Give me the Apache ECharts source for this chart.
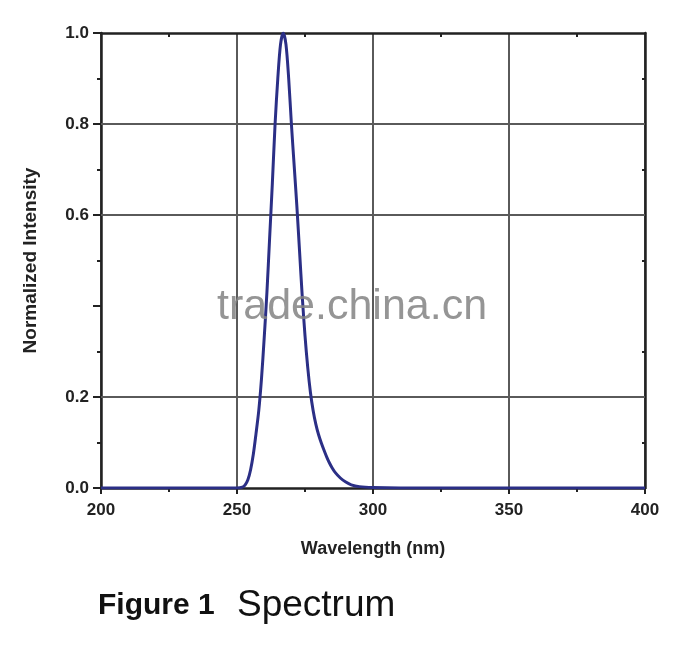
<!DOCTYPE html>
<html>
<head>
<meta charset="utf-8">
<script src="https://cdn.jsdelivr.net/npm/echarts@6/dist/echarts.min.js"></script>
<style>html,body{margin:0;padding:0;background:#fff;}#c{width:700px;height:649px;}</style>
</head>
<body>
<div id="c"></div>
<script>
var wavelength = [200, 230, 250, 252, 253, 254, 255, 256, 257, 258, 259, 260, 261, 262, 263, 264, 265, 266, 267, 268, 269, 270, 271, 272, 273, 274, 275, 276, 277, 278, 279, 280, 281, 282, 283, 284, 285, 286, 288, 290, 292, 295, 300, 310, 350, 400];
var intensity  = [0, 0, 0, 0.002, 0.007, 0.018, 0.04, 0.074, 0.12, 0.17, 0.24, 0.33, 0.43, 0.55, 0.67, 0.8, 0.9, 0.975, 1.0, 0.975, 0.9, 0.8, 0.71, 0.62, 0.52, 0.42, 0.335, 0.265, 0.21, 0.17, 0.14, 0.117, 0.099, 0.083, 0.068, 0.055, 0.044, 0.035, 0.022, 0.013, 0.007, 0.003, 0.001, 0, 0, 0];
var yGridValues = [0.2, 0.6, 0.8];
var yTickLabels = ['0.0', '0.2', '', '0.6', '0.8', '1.0'];
var xTitle = 'Wavelength (nm)';
var yTitle = 'Normalized Intensity';
var captionBold = 'Figure 1';
var captionRegular = 'Spectrum';
var watermark = 'trade.china.cn';

var points = wavelength.map(function (w, i) { return [w, intensity[i]]; });
var axisColor = '#222';
var gridColor = '#5a5a5a';
var labelFont = {fontFamily: 'Liberation Sans', fontWeight: 'bold', fontSize: 17, color: '#222'};
var titleFont = {fontFamily: 'Liberation Sans', fontWeight: 'bold', fontSize: 18, color: '#222'};

var chart = echarts.init(document.getElementById('c'));
chart.setOption({
  animation: false,
  backgroundColor: '#fff',
  grid: {left: 101, top: 33, right: 55, bottom: 161},
  xAxis: [{
    type: 'value', min: 200, max: 400, interval: 50, position: 'bottom',
    axisLine: {show: true, onZero: false, lineStyle: {color: axisColor, width: 2.5}},
    axisTick: {show: true, inside: false, length: 6, lineStyle: {color: axisColor, width: 2}},
    minorTick: {show: true, splitNumber: 2, length: 4, lineStyle: {color: axisColor, width: 2}},
    axisLabel: Object.assign({margin: 14}, labelFont),
    splitLine: {show: true, lineStyle: {color: gridColor, width: 2}},
    name: xTitle, nameLocation: 'middle', nameGap: 52,
    nameTextStyle: titleFont
  }, {
    type: 'value', min: 200, max: 400, interval: 50, position: 'top',
    axisLine: {show: true, onZero: false, lineStyle: {color: axisColor, width: 2.5}},
    axisTick: {show: false, inside: true},
    minorTick: {show: true, splitNumber: 2, length: 4, lineStyle: {color: axisColor, width: 2}},
    axisLabel: {show: false}, splitLine: {show: false}
  }],
  yAxis: [{
    type: 'value', min: 0, max: 1, interval: 0.2, position: 'left',
    axisLine: {show: true, onZero: false, lineStyle: {color: axisColor, width: 2.5}},
    axisTick: {show: true, inside: false, length: 8, lineStyle: {color: axisColor, width: 2}},
    minorTick: {show: true, splitNumber: 2, length: 4, lineStyle: {color: axisColor, width: 2}},
    axisLabel: Object.assign({margin: 12, formatter: function (v, i) { return yTickLabels[i] !== undefined ? yTickLabels[i] : ''; }}, labelFont),
    splitLine: {show: false},
    name: yTitle, nameLocation: 'middle', nameGap: 61, nameRotate: 90,
    nameTextStyle: {fontFamily: 'Liberation Sans', fontWeight: 'bold', fontSize: 19, color: '#222'}
  }, {
    type: 'value', min: 0, max: 1, interval: 0.2, position: 'right',
    axisLine: {show: true, onZero: false, lineStyle: {color: axisColor, width: 2.5}},
    axisTick: {show: false, inside: true},
    minorTick: {show: true, splitNumber: 2, length: 3, lineStyle: {color: axisColor, width: 2}},
    axisLabel: {show: false}, splitLine: {show: false}
  }],
  series: [{
    type: 'line', xAxisIndex: 0, yAxisIndex: 0,
    data: points, smooth: 0.3, showSymbol: false, z: 3,
    lineStyle: {color: '#2b2f86', width: 3},
    markLine: {
      silent: true, symbol: 'none', z: 1,
      label: {show: false},
      lineStyle: {color: gridColor, width: 2, type: 'solid'},
      data: yGridValues.map(function (v) { return {yAxis: v}; })
    }
  }],
  graphic: [{
    type: 'text', left: 217, top: 286, z: 10, silent: true,
    style: {text: watermark, fontFamily: 'Liberation Sans', fontSize: 43, fill: 'rgba(130,130,130,0.85)'}
  }, {
    type: 'text', left: 98, top: 591,
    style: {text: captionBold, fontFamily: 'Liberation Sans', fontWeight: 'bold', fontSize: 30, fill: '#111'}
  }, {
    type: 'text', left: 237, top: 587,
    style: {text: captionRegular, fontFamily: 'Liberation Sans', fontSize: 37, fill: '#111'}
  }]
});
</script>
</body>
</html>
